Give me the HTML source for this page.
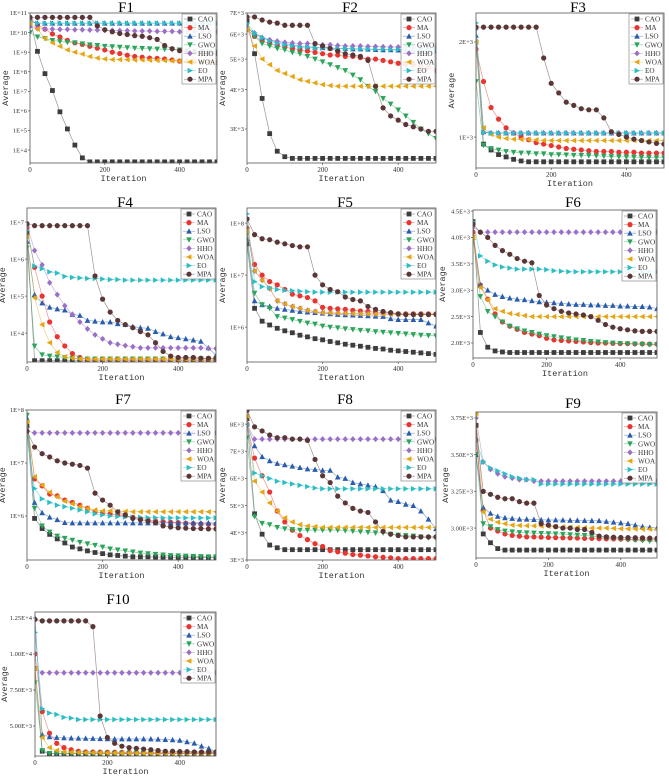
<!DOCTYPE html>
<html><head><meta charset="utf-8"><style>
html,body{margin:0;padding:0;background:#fff;}
svg{display:block;font-family:"Liberation Serif",serif;}
</style></head><body>
<svg id="fig" width="669" height="778" viewBox="0 0 669 778" xmlns="http://www.w3.org/2000/svg"></svg>
<script>
const iterations=[0,20,40,60,80,100,120,140,160,180,200,220,240,260,280,300,320,340,360,380,400,420,440,460,480,500];
const algorithms=["CAO","MA","LSO","GWO","HHO","WOA","EO","MPA"];
const xTickValues=[0,200,400];

const f1_CAO=[5e10,1.1e9,8e7,1.1e7,9e5,1.2e5,1.8e4,4e3,2.5e3,2.5e3,2.5e3,2.5e3,2.5e3,2.5e3,2.5e3,2.5e3,2.5e3,2.5e3,2.5e3,2.5e3,2.5e3,2.5e3,2.5e3,2.5e3,2.5e3,2.5e3];
const f1_MA=[5e10,2.5e10,1.5e10,8.5e9,6e9,4e9,3e9,2.5e9,2e9,1.6e9,1.3e9,1e9,8.5e8,7e8,6e8,5.5e8,5e8,4.8e8,4.5e8,4e8,3.5e8,3.4e8,3.3e8,3.2e8,3.1e8,3e8];
const f1_LSO=[3.5e10,3e10,3e10,3e10,3e10,3e10,3e10,3e10,3e10,3e10,3e10,3e10,3e10,3e10,3e10,3e10,3e10,3e10,3e10,3e10,3e10,3e10,3e10,3e10,3e10,3e10];
const f1_GWO=[1e10,6e9,5e9,4e9,3.5e9,3.2e9,3e9,2.7e9,2.4e9,2.2e9,2e9,1.9e9,1.8e9,1.7e9,1.6e9,1.55e9,1.5e9,1.45e9,1.4e9,1.35e9,1.3e9,1.2e9,1.15e9,1.1e9,1.05e9,1e9];
const f1_HHO=[2e10,1.6e10,1.5e10,1.5e10,1.45e10,1.45e10,1.4e10,1.4e10,1.35e10,1.35e10,1.3e10,1.3e10,1.25e10,1.25e10,1.2e10,1.2e10,1.2e10,1.15e10,1.15e10,1.15e10,1.1e10,1.1e10,1.1e10,1.1e10,1.1e10,1.1e10];
const f1_WOA=[3e10,1.5e10,5e9,3e9,2e9,1.3e9,1e9,8e8,6e8,5e8,4.5e8,4.2e8,4.2e8,4.1e8,4e8,4e8,3.9e8,3.8e8,3.7e8,3.6e8,3.5e8,3.4e8,3.3e8,3.2e8,3.1e8,3e8];
const f1_EO=[4e10,3e10,3e10,3e10,3e10,3e10,3e10,3e10,3e10,3e10,3e10,3e10,3e10,3e10,3e10,3e10,3e10,3e10,3e10,3e10,3e10,3e10,3e10,3e10,3e10,3e10];
const f1_MPA=[6e10,6e10,6e10,6e10,6e10,6e10,6e10,6e10,6e10,2.2e10,1.4e10,1.1e10,9e9,8e9,7e9,6.5e9,5.5e9,4.5e9,2.2e9,1.5e9,1.2e9,1.1e9,1e9,9.5e8,9e8,8.5e8];

const f2_CAO=[6600,5200,3750,2900,2550,2450,2420,2420,2420,2420,2420,2420,2420,2420,2420,2420,2420,2420,2420,2420,2420,2420,2420,2420,2420,2420];
const f2_MA=[6200,5900,5700,5600,5500,5450,5400,5350,5300,5250,5200,5150,5150,5100,5100,5050,5000,5000,4950,4900,4850,4800,4800,4750,4700,4600];
const f2_LSO=[6300,6000,5850,5750,5650,5600,5550,5500,5480,5450,5430,5420,5400,5400,5380,5380,5370,5360,5350,5350,5340,5330,5320,5310,5300,5300];
const f2_GWO=[6400,5900,5600,5500,5400,5350,5250,5200,5100,5000,4900,4800,4700,4600,4450,4300,4100,3950,3750,3600,3450,3300,3150,3000,2900,2800];
const f2_HHO=[6300,6050,5850,5750,5700,5650,5620,5600,5600,5580,5550,5550,5520,5500,5500,5500,5480,5480,5470,5460,5460,5450,5450,5450,5450,5450];
const f2_WOA=[6200,5500,5000,4800,4600,4500,4400,4300,4250,4200,4150,4120,4100,4100,4100,4100,4100,4100,4100,4100,4100,4100,4100,4100,4100,4100];
const f2_EO=[6500,6050,5850,5700,5600,5550,5500,5450,5450,5430,5420,5410,5400,5400,5390,5380,5380,5370,5370,5360,5360,5360,5350,5350,5350,5350];
const f2_MPA=[6800,6800,6650,6550,6500,6400,6400,6400,6400,5600,5500,5400,5300,5200,5150,5100,4950,4100,3500,3300,3200,3100,3050,3000,2950,2950];

const f3_CAO=[2000,950,910,880,865,850,840,835,835,835,835,835,835,835,835,835,835,835,835,835,835,835,835,835,835,835];
const f3_MA=[1900,1500,1240,1140,1070,1030,1000,980,960,950,940,930,920,915,910,905,900,900,900,895,895,895,890,890,890,890];
const f3_LSO=[2100,1040,1030,1030,1030,1030,1030,1030,1030,1030,1030,1030,1030,1030,1030,1030,1030,1030,1030,1030,1030,1030,1030,1030,1030,1030];
const f3_GWO=[1500,943,920,910,900,895,890,890,885,885,880,880,878,876,875,874,872,870,868,866,865,864,862,861,860,860];
const f3_HHO=[2200,1035,1030,1030,1030,1030,1030,1030,1030,1030,1030,1030,1030,1030,1030,1030,1030,1030,1030,1030,1030,1030,1030,1030,1030,1030];
const f3_WOA=[2000,1070,1020,1000,990,985,983,982,980,975,975,975,975,975,975,975,975,975,975,975,975,975,975,975,975,975];
const f3_EO=[2300,1035,1030,1030,1030,1030,1030,1030,1030,1030,1030,1030,1030,1030,1030,1030,1030,1030,1030,1030,1030,1030,1030,1030,1030,1030];
const f3_MPA=[2230,2230,2230,2230,2230,2230,2230,2230,2230,1780,1480,1380,1290,1260,1230,1220,1220,1150,1040,1020,1000,985,975,965,955,950];

const f4_CAO=[5e6,1.8e3,1.8e3,1.8e3,1.8e3,1.8e3,1.8e3,1.8e3,1.8e3,1.8e3,1.8e3,1.8e3,1.8e3,1.8e3,1.8e3,1.8e3,1.8e3,1.8e3,1.8e3,1.8e3,1.8e3,1.8e3,1.8e3,1.8e3,1.8e3,1.8e3];
const f4_MA=[7e6,6e5,1e5,2e4,8e3,4.5e3,2.8e3,2.2e3,2e3,2e3,2e3,2e3,2e3,2e3,2e3,2e3,2e3,2e3,2e3,2e3,2e3,2e3,2e3,2e3,2e3,2e3];
const f4_LSO=[3e6,1.1e5,6.5e4,5e4,4.5e4,4.2e4,3.2e4,3e4,2.2e4,2.1e4,2e4,2e4,1.8e4,1.7e4,1.5e4,1.4e4,1.35e4,1.1e4,9.5e3,8e3,7.5e3,7e3,6.5e3,6e3,4e3,2.5e3];
const f4_GWO=[2e6,4.5e3,2.6e3,2.4e3,2.3e3,2.2e3,2.1e3,2e3,2e3,2e3,2e3,2e3,2e3,2e3,2e3,2e3,2e3,2e3,2e3,2e3,2e3,2e3,2e3,2e3,2e3,2e3];
const f4_HHO=[8e6,1.7e6,7e5,2.3e5,1.1e5,5.5e4,3.2e4,2e4,1.3e4,9e3,7e3,5.5e3,5e3,4.6e3,4.3e3,4e3,4e3,4e3,4e3,4e3,4e3,4e3,4e3,4e3,3.9e3,3.8e3];
const f4_WOA=[4e6,9e4,1.7e4,5.5e3,3e3,2.3e3,2.1e3,2e3,2e3,2e3,2e3,2e3,2e3,2e3,2e3,2e3,2e3,2e3,2e3,2e3,2e3,2e3,2e3,2e3,2e3,2e3];
const f4_EO=[6e6,6.5e5,5.5e5,4.5e5,4.2e5,3.4e5,3.2e5,3.1e5,3e5,3e5,2.9e5,2.8e5,2.8e5,2.7e5,2.7e5,2.7e5,2.7e5,2.7e5,2.7e5,2.7e5,2.7e5,2.7e5,2.7e5,2.7e5,2.7e5,2.7e5];
const f4_MPA=[9e6,8e6,8e6,8e6,8e6,8e6,8e6,8e6,8e6,3.5e5,8.3e4,3.7e4,2.2e4,1.7e4,1.4e4,1.1e4,9e3,5.5e3,3.2e3,2.4e3,2.2e3,2.2e3,2.2e3,2.1e3,2.1e3,2.1e3];

const f5_CAO=[4e7,2.3e6,1.3e6,1.1e6,9.5e5,8.5e5,7.8e5,7e5,6.5e5,6e5,5.7e5,5.3e5,5e5,4.7e5,4.5e5,4.3e5,4.1e5,3.9e5,3.8e5,3.6e5,3.5e5,3.4e5,3.3e5,3.2e5,3.1e5,3e5];
const f5_MA=[8e7,1.6e7,1e7,7.5e6,6.5e6,5.3e6,4.3e6,4e6,3.7e6,3.2e6,2.4e6,2.3e6,2.25e6,2.2e6,2.1e6,2.05e6,2e6,1.95e6,1.9e6,1.85e6,1.8e6,1.8e6,1.8e6,1.8e6,1.8e6,1.8e6];
const f5_LSO=[5e7,3.2e6,2.7e6,2.5e6,2.3e6,2.2e6,2.1e6,2e6,1.95e6,1.9e6,1.85e6,1.8e6,1.75e6,1.72e6,1.7e6,1.68e6,1.65e6,1.62e6,1.6e6,1.45e6,1.4e6,1.4e6,1.4e6,1.4e6,1.2e6,1.05e6];
const f5_GWO=[6e7,4.5e6,2.7e6,2.3e6,1.6e6,1.5e6,1.4e6,1.3e6,1.2e6,1.15e6,1.05e6,1e6,9.7e5,9.3e5,9e5,8.7e5,8.5e5,8.2e5,8e5,7.8e5,7.6e5,7.4e5,7.2e5,7e5,6.9e5,6.8e5];
const f5_HHO=[7e7,1.2e7,8e6,5.5e6,3.2e6,2.8e6,2.5e6,2.3e6,2.1e6,2e6,1.9e6,1.88e6,1.86e6,1.84e6,1.82e6,1.8e6,1.8e6,1.78e6,1.78e6,1.77e6,1.76e6,1.76e6,1.75e6,1.75e6,1.75e6,1.75e6];
const f5_WOA=[7e7,1.2e7,8e6,5.5e6,3.2e6,2.8e6,2.5e6,2.3e6,2.1e6,2e6,1.9e6,1.88e6,1.86e6,1.84e6,1.82e6,1.8e6,1.8e6,1.78e6,1.78e6,1.77e6,1.76e6,1.76e6,1.75e6,1.75e6,1.75e6,1.75e6];
const f5_EO=[1.5e8,7.5e6,6e6,5.7e6,5.3e6,5.1e6,5e6,4.9e6,4.8e6,4.7e6,4.7e6,4.7e6,4.7e6,4.7e6,4.7e6,4.7e6,4.7e6,4.7e6,4.7e6,4.7e6,4.7e6,4.7e6,4.7e6,4.7e6,4.7e6,4.7e6];
const f5_MPA=[1.2e8,6e7,5e7,4.8e7,4.3e7,4e7,3.7e7,3.5e7,3.5e7,1e7,6.5e6,5.3e6,4.8e6,3.8e6,3.4e6,3.2e6,2.5e6,2.2e6,2e6,1.9e6,1.8e6,1.75e6,1.75e6,1.75e6,1.75e6,1.75e6];

const f6_CAO=[4300,2200,1920,1850,1830,1820,1820,1820,1820,1820,1820,1820,1820,1820,1820,1820,1820,1820,1820,1820,1820,1820,1820,1820,1820,1820];
const f6_MA=[4100,3100,2830,2550,2400,2320,2260,2200,2170,2140,2090,2060,2050,2040,2030,2020,2010,2000,2000,1995,1990,1990,1985,1985,1980,1980];
const f6_LSO=[4000,3100,3000,2920,2880,2850,2830,2820,2800,2780,2770,2760,2750,2740,2730,2730,2720,2720,2710,2710,2700,2700,2690,2690,2680,2650];
const f6_GWO=[4000,2880,2600,2500,2400,2320,2270,2230,2200,2170,2140,2120,2100,2080,2060,2050,2030,2020,2010,2000,1990,1985,1980,1975,1970,1970];
const f6_HHO=[4200,4100,4100,4100,4100,4100,4100,4100,4100,4100,4100,4100,4100,4100,4100,4100,4100,4100,4100,4100,4100,4100,4100,4100,4100,4100];
const f6_WOA=[4000,3050,2820,2650,2600,2560,2540,2520,2500,2500,2500,2500,2500,2500,2500,2500,2500,2500,2500,2500,2500,2500,2500,2500,2500,2500];
const f6_EO=[4300,3650,3550,3480,3440,3420,3400,3400,3400,3400,3390,3370,3360,3350,3350,3350,3350,3350,3350,3350,3350,3350,3350,3350,3350,3350];
const f6_MPA=[4250,4100,4000,3850,3750,3680,3600,3550,3520,2900,2720,2650,2600,2570,2550,2530,2500,2430,2350,2300,2270,2250,2230,2220,2220,2220];

const f7_CAO=[5e7,9e5,5.8e5,4.5e5,3.7e5,3.1e5,2.6e5,2.4e5,2.2e5,2.05e5,1.95e5,1.85e5,1.8e5,1.75e5,1.7e5,1.7e5,1.7e5,1.68e5,1.68e5,1.67e5,1.66e5,1.66e5,1.65e5,1.65e5,1.65e5,1.65e5];
const f7_MA=[6e7,5e6,3.7e6,2.6e6,2.4e6,2e6,1.8e6,1.6e6,1.4e6,1.2e6,1.15e6,1.1e6,1.05e6,1e6,9.5e5,9e5,8.5e5,8e5,7.8e5,7.6e5,7.5e5,7.3e5,7.2e5,7.1e5,7e5,7e5];
const f7_LSO=[7e7,1.8e6,1.15e6,9.5e5,8.5e5,7.5e5,7.4e5,7.4e5,7.4e5,7.4e5,7.4e5,7.4e5,7.4e5,7.4e5,7.4e5,7.4e5,7.4e5,7.4e5,7.4e5,7.4e5,7.4e5,7.4e5,7.4e5,7.4e5,7.4e5,7.4e5];
const f7_GWO=[8e7,1.4e6,6.5e5,5e5,4.2e5,3.8e5,3.5e5,3.2e5,3e5,2.8e5,2.6e5,2.4e5,2.3e5,2.2e5,2.1e5,2e5,1.95e5,1.9e5,1.85e5,1.8e5,1.78e5,1.76e5,1.74e5,1.72e5,1.7e5,1.7e5];
const f7_HHO=[4e7,3.7e7,3.7e7,3.7e7,3.7e7,3.7e7,3.7e7,3.7e7,3.7e7,3.7e7,3.7e7,3.7e7,3.7e7,3.7e7,3.7e7,3.7e7,3.7e7,3.7e7,3.7e7,3.7e7,3.7e7,3.7e7,3.7e7,3.7e7,3.7e7,3.7e7];
const f7_WOA=[6e7,5.5e6,3.8e6,2.8e6,2.3e6,1.9e6,1.7e6,1.5e6,1.4e6,1.3e6,1.25e6,1.25e6,1.22e6,1.22e6,1.2e6,1.2e6,1.2e6,1.2e6,1.2e6,1.2e6,1.2e6,1.2e6,1.2e6,1.2e6,1.2e6,1.2e6];
const f7_EO=[3e7,3.3e6,2.1e6,1.8e6,1.6e6,1.5e6,1.4e6,1.3e6,1.2e6,1.1e6,1.05e6,1e6,9.8e5,9.6e5,9.5e5,9.4e5,9.3e5,9.3e5,9.2e5,9.2e5,9.2e5,9.2e5,9.2e5,9.2e5,9.2e5,9.2e5];
const f7_MPA=[4e7,2e7,1.5e7,1.3e7,1.1e7,1e7,9.5e6,9e6,8e6,2.7e6,2e6,1.6e6,1.2e6,1.05e6,9e5,8.5e5,8e5,7.5e5,6.5e5,6.2e5,6e5,5.9e5,5.8e5,5.8e5,5.7e5,5.7e5];

const f8_CAO=[8200,4700,3950,3550,3450,3380,3380,3380,3380,3380,3380,3380,3380,3380,3380,3380,3380,3380,3380,3380,3380,3380,3380,3380,3380,3380];
const f8_MA=[8000,6750,6100,5500,4800,4400,4100,3900,3750,3600,3500,3350,3300,3250,3200,3180,3150,3120,3100,3080,3050,3050,3050,3050,3050,3050];
const f8_LSO=[8000,7200,6800,6650,6550,6500,6450,6400,6350,6330,6300,6300,6050,6000,5850,5800,5750,5700,5550,5200,5150,5050,5000,4800,4500,4150];
const f8_GWO=[7500,4600,4350,4300,4200,4150,4120,4100,4100,4100,4100,4100,4100,4080,4060,4040,4020,4000,4000,3950,3920,3900,3880,3850,3820,3800];
const f8_HHO=[8000,7450,7450,7450,7450,7450,7450,7450,7450,7450,7450,7450,7450,7450,7450,7450,7450,7450,7450,7450,7450,7450,7450,7450,7450,7450];
const f8_WOA=[8300,5900,5500,5100,4800,4550,4400,4300,4250,4230,4200,4200,4200,4200,4200,4200,4200,4200,4200,4200,4200,4200,4200,4200,4200,4200];
const f8_EO=[8000,6200,6100,6000,5900,5850,5800,5750,5700,5650,5620,5620,5620,5620,5620,5620,5620,5620,5620,5620,5620,5620,5620,5620,5620,5620];
const f8_MPA=[8500,7900,7750,7600,7500,7500,7450,7450,7400,6700,6100,5850,5350,5100,4900,4800,4750,4400,4050,3950,3900,3850,3850,3850,3850,3850];

const f9_CAO=[3700,2960,2900,2860,2850,2850,2850,2850,2850,2850,2850,2850,2850,2850,2850,2850,2850,2850,2850,2850,2850,2850,2850,2850,2850,2850];
const f9_MA=[3600,3120,3000,2980,2960,2950,2945,2940,2940,2938,2936,2935,2934,2933,2932,2930,2930,2928,2927,2926,2925,2924,2923,2922,2921,2920];
const f9_LSO=[3500,3140,3100,3080,3070,3065,3060,3060,3058,3056,3055,3055,3054,3053,3052,3051,3050,3050,3045,3040,3035,3030,3020,3010,3005,3000];
const f9_GWO=[3500,3030,3010,2990,2980,2975,2970,2968,2966,2964,2962,2960,2958,2955,2952,2950,2945,2940,2935,2930,2925,2920,2918,2915,2912,2910];
const f9_HHO=[3750,3450,3400,3370,3350,3340,3330,3330,3320,3320,3320,3320,3320,3320,3320,3320,3320,3320,3320,3320,3320,3320,3320,3320,3320,3320];
const f9_WOA=[3780,3110,3060,3040,3030,3020,3018,3016,3015,3014,3012,3010,3008,3006,3004,3002,3000,3000,3000,2998,2996,2995,2994,2993,2992,2990];
const f9_EO=[3600,3450,3410,3390,3370,3350,3340,3330,3330,3300,3300,3300,3300,3300,3300,3300,3300,3300,3300,3300,3300,3300,3300,3300,3300,3300];
const f9_MPA=[3700,3250,3230,3210,3200,3200,3180,3170,3170,3030,3020,3010,3000,3000,2990,2990,2970,2945,2940,2938,2936,2935,2934,2933,2932,2930];

const f10_CAO=[9000,3250,3080,3080,3080,3080,3080,3080,3080,3080,3080,3080,3080,3080,3080,3080,3080,3080,3080,3080,3080,3080,3080,3080,3080,3080];
const f10_MA=[10000,6000,4500,3800,3500,3350,3250,3200,3200,3190,3180,3180,3170,3170,3160,3160,3160,3150,3150,3150,3150,3150,3150,3150,3150,3150];
const f10_LSO=[12500,4400,4250,4200,4180,4160,4150,4140,4130,4120,4110,4100,4100,4100,4100,4100,4100,4080,4060,4040,4000,3900,3800,3600,3450,3200];
const f10_GWO=[8000,3300,3100,3100,3100,3100,3100,3100,3100,3100,3100,3100,3100,3100,3100,3100,3100,3100,3100,3100,3100,3100,3100,3100,3100,3100];
const f10_HHO=[9000,8700,8700,8700,8700,8700,8700,8700,8700,8700,8700,8700,8700,8700,8700,8700,8700,8700,8700,8700,8700,8700,8700,8700,8700,8700];
const f10_WOA=[9000,4200,3500,3300,3200,3180,3160,3150,3140,3130,3120,3120,3110,3110,3110,3110,3110,3110,3110,3110,3110,3110,3110,3110,3110,3110];
const f10_EO=[11500,6200,5900,5800,5600,5550,5450,5450,5450,5450,5450,5450,5450,5450,5450,5450,5450,5450,5450,5450,5450,5450,5450,5450,5450,5450];
const f10_MPA=[12400,12300,12300,12300,12300,12300,12300,12300,11900,5700,4200,3800,3600,3500,3450,3400,3350,3300,3250,3250,3220,3220,3200,3200,3200,3200];

const yTicks1=[1e4,1e5,1e6,1e7,1e8,1e9,1e10,1e11];
const yLabels1=["1E+4","1E+5","1E+6","1E+7","1E+8","1E+9","1E+10","1E+11"];
const yTicks2=[3000,4000,5000,6000,7000];
const yLabels2=["3E+3","4E+3","5E+3","6E+3","7E+3"];
const yTicks3=[1000,2000];
const yLabels3=["1E+3","2E+3"];
const yTicks4=[1e4,1e5,1e6,1e7];
const yLabels4=["1E+4","1E+5","1E+6","1E+7"];
const yTicks5=[1e6,1e7,1e8];
const yLabels5=["1E+6","1E+7","1E+8"];
const yTicks6=[2000,2500,3000,3500,4000,4500];
const yLabels6=["2.0E+3","2.5E+3","3.0E+3","3.5E+3","4.0E+3","4.5E+3"];
const yTicks7=[1e6,1e7,1e8];
const yLabels7=["1E+6","1E+7","1E+8"];
const yTicks8=[3000,4000,5000,6000,7000,8000];
const yLabels8=["3E+3","4E+3","5E+3","6E+3","7E+3","8E+3"];
const yTicks9=[3000,3250,3500,3750];
const yLabels9=["3.00E+3","3.25E+3","3.50E+3","3.75E+3"];
const yTicks10=[5000,7500,10000,12500];
const yLabels10=["5.00E+3","7.50E+3","1.00E+4","1.25E+4"];

const colors={CAO:"#3d3d3d",MA:"#e8352f",LSO:"#2a5cad",GWO:"#2aa55a",HHO:"#9b6fc7",WOA:"#e5a514",EO:"#2dbdc4",MPA:"#5b3636"};
const panels=[
 {t:"F1",x0:30,x1:217,y0:13,y1:163,log:true,d0:Math.pow(10,3.34),d1:1e11,ticks:yTicks1,labels:yLabels1,s:[f1_CAO,f1_MA,f1_LSO,f1_GWO,f1_HHO,f1_WOA,f1_EO,f1_MPA],tx:126,ty:13},
 {t:"F2",x0:247,x1:436,y0:13,y1:163,log:true,d0:2340,d1:7000,ticks:yTicks2,labels:yLabels2,s:[f2_CAO,f2_MA,f2_LSO,f2_GWO,f2_HHO,f2_WOA,f2_EO,f2_MPA],tx:350,ty:13},
 {t:"F3",x0:476,x1:664,y0:13,y1:168,log:true,d0:798,d1:2472,ticks:yTicks3,labels:yLabels3,s:[f3_CAO,f3_MA,f3_LSO,f3_GWO,f3_HHO,f3_WOA,f3_EO,f3_MPA],tx:578,ty:13},
 {t:"F4",x0:27,x1:216,y0:208,y1:362,log:true,d0:Math.pow(10,3.22),d1:Math.pow(10,7.38),ticks:yTicks4,labels:yLabels4,s:[f4_CAO,f4_MA,f4_LSO,f4_GWO,f4_HHO,f4_WOA,f4_EO,f4_MPA],tx:125,ty:208},
 {t:"F5",x0:247,x1:436,y0:208,y1:362,log:true,d0:Math.pow(10,5.33),d1:Math.pow(10,8.29),ticks:yTicks5,labels:yLabels5,s:[f5_CAO,f5_MA,f5_LSO,f5_GWO,f5_HHO,f5_WOA,f5_EO,f5_MPA],tx:345,ty:208},
 {t:"F6",x0:473,x1:657,y0:210,y1:358,log:false,d0:1716,d1:4520,ticks:yTicks6,labels:yLabels6,s:[f6_CAO,f6_MA,f6_LSO,f6_GWO,f6_HHO,f6_WOA,f6_EO,f6_MPA],tx:573,ty:208},
 {t:"F7",x0:27,x1:216,y0:410,y1:560,log:true,d0:Math.pow(10,5.17),d1:1e8,ticks:yTicks7,labels:yLabels7,s:[f7_CAO,f7_MA,f7_LSO,f7_GWO,f7_HHO,f7_WOA,f7_EO,f7_MPA],tx:123,ty:405},
 {t:"F8",x0:247,x1:436,y0:410,y1:560,log:false,d0:3000,d1:8520,ticks:yTicks8,labels:yLabels8,s:[f8_CAO,f8_MA,f8_LSO,f8_GWO,f8_HHO,f8_WOA,f8_EO,f8_MPA],tx:345,ty:405},
 {t:"F9",x0:476,x1:657,y0:412,y1:558,log:false,d0:2796,d1:3791,ticks:yTicks9,labels:yLabels9,s:[f9_CAO,f9_MA,f9_LSO,f9_GWO,f9_HHO,f9_WOA,f9_EO,f9_MPA],tx:573,ty:409},
 {t:"F10",x0:35,x1:216,y0:612,y1:756,log:false,d0:2917,d1:12917,ticks:yTicks10,labels:yLabels10,s:[f10_CAO,f10_MA,f10_LSO,f10_GWO,f10_HHO,f10_WOA,f10_EO,f10_MPA],tx:118,ty:605}
];
const NS="http://www.w3.org/2000/svg";
const svg=document.getElementById("fig");
function mk(tag,attrs,parent){const e=document.createElementNS(NS,tag);for(const k in attrs)e.setAttribute(k,attrs[k]);parent.appendChild(e);return e;}
function marker(g,name,x,y,c){
 const r=2.4;let e;
 if(name==="CAO")e=mk("rect",{x:x-r,y:y-r,width:2*r,height:2*r,fill:c},g);
 else if(name==="MA"||name==="MPA")e=mk("circle",{cx:x,cy:y,r:r+0.2,fill:c},g);
 else{let p;
  if(name==="LSO")p=[[x,y-r-0.6],[x+r+0.4,y+r],[x-r-0.4,y+r]];
  else if(name==="GWO")p=[[x,y+r+0.6],[x+r+0.4,y-r],[x-r-0.4,y-r]];
  else if(name==="HHO")p=[[x,y-r-0.6],[x+r+0.3,y],[x,y+r+0.6],[x-r-0.3,y]];
  else if(name==="WOA")p=[[x-r-0.6,y],[x+r,y-r-0.4],[x+r,y+r+0.4]];
  else p=[[x+r+0.6,y],[x-r,y-r-0.4],[x-r,y+r+0.4]];
  e=mk("polygon",{points:p.map(q=>q.join(",")).join(" "),fill:c},g);}
 
 
}
panels.forEach((P,pi)=>{
 const g=mk("g",{},svg);
 
 
 const xs=v=>P.x0+(v/500)*(P.x1-P.x0);
 const ys=v=>{let a,b,c;if(P.log){a=Math.log10(P.d0);b=Math.log10(P.d1);c=Math.log10(v);}else{a=P.d0;b=P.d1;c=v;}return P.y1-(c-a)/(b-a)*(P.y1-P.y0);};
 const title=mk("text",{x:P.tx,y:P.ty-1,"text-anchor":"middle","font-size":"15"},g);title.textContent=P.t;
 
 
 const clipId="clip"+pi;
 const cp=mk("clipPath",{id:clipId},g);mk("rect",{x:P.x0,y:P.y0,width:P.x1-P.x0,height:P.y1-P.y0},cp);
 const plot=mk("g",{"clip-path":"url(#"+clipId+")"},g);
 
 
 P.s.forEach((arr,si)=>{
  const name=algorithms[si],c=colors[name];
  const sg=mk("g",{},plot);
  
  
  const pts=arr.map((v,i)=>xs(iterations[i]).toFixed(1)+","+ys(v).toFixed(1)).join(" ");
  const ln=mk("polyline",{points:pts,fill:"none",stroke:c,"stroke-width":"0.7","stroke-opacity":"0.55"},sg);
  
  
  arr.forEach((v,i)=>marker(sg,name,xs(iterations[i]),ys(v),c));
 });
 const fr=mk("rect",{x:P.x0,y:P.y0,width:P.x1-P.x0,height:P.y1-P.y0,fill:"none",stroke:"#555","stroke-width":"0.8"},g);
 
 
 P.ticks.forEach((v,i)=>{
  const y=ys(v);
  const tk=mk("line",{x1:P.x0-2,x2:P.x0,y1:y,y2:y,stroke:"#555","stroke-width":"0.7"},g);
  
  
  const lb=mk("text",{x:P.x0-3,y:y+2.2,"text-anchor":"end","font-size":"6.5",fill:"#333"},g);lb.textContent=P.labels[i];
  
  
 });
 xTickValues.forEach(v=>{
  const x=xs(v);
  const tk=mk("line",{x1:x,x2:x,y1:P.y1,y2:P.y1+2,stroke:"#555","stroke-width":"0.7"},g);
  
  
  const lb=mk("text",{x:x,y:P.y1+9,"text-anchor":"middle","font-size":"7",fill:"#333"},g);lb.textContent=String(v);
  
  
 });
 const xt=mk("text",{x:(P.x0+P.x1)/2,y:P.y1+18,"text-anchor":"middle","font-size":"8.5",fill:"#333","font-family":"Liberation Mono, monospace"},g);xt.textContent="Iteration";
 
 
 const ax=P.labels[0].length>5?P.x0-28:P.x0-22;
 const yt=mk("text",{x:ax,y:(P.y0+P.y1)/2,"text-anchor":"middle","font-size":"8.5",fill:"#333","font-family":"Liberation Mono, monospace",transform:"rotate(-90 "+ax+" "+((P.y0+P.y1)/2)+")"},g);yt.textContent="Average";
 
 
 // legend
 const lw=34,lh=70,lx=P.x1-lw-1,ly=P.y0+1;
 const lg=mk("g",{},g);
 
 
 mk("rect",{x:lx,y:ly,width:lw,height:lh,fill:"#fff","fill-opacity":"0.9",stroke:"#777","stroke-width":"0.6"},lg);
 algorithms.forEach((name,i)=>{
  const yy=ly+5+i*8.6,c=colors[name];
  const eg=mk("g",{},lg);
  
  
  mk("line",{x1:lx+2,x2:lx+14,y1:yy,y2:yy,stroke:c,"stroke-width":"0.6","stroke-opacity":"0.6"},eg);
  marker(eg,name,lx+8,yy,c);
  const tx=mk("text",{x:lx+16,y:yy+2.5,"font-size":"7.2",fill:"#333"},eg);tx.textContent=name;
  
  
 });
});
</script>
</body></html>
